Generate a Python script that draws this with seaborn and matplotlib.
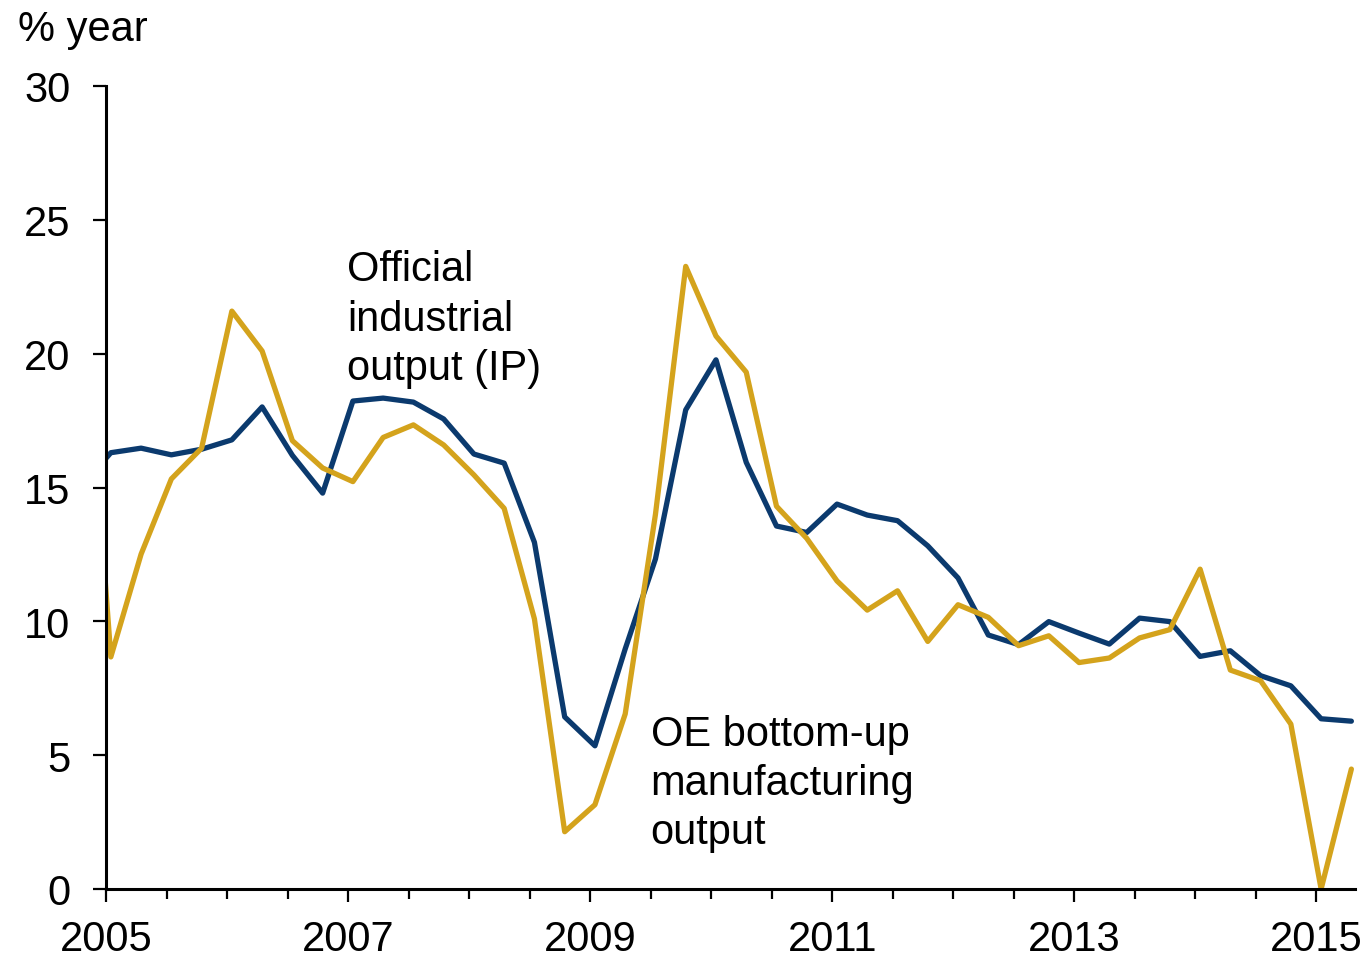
import numpy as np
import pandas as pd
import matplotlib
matplotlib.use("Agg")
import matplotlib.pyplot as plt
import seaborn as sns
from matplotlib.ticker import MultipleLocator, FixedLocator

# quarterly data, 2004Q4 .. 2015Q2
quarters = (["2004Q4"]
            + [f"{y}Q{q}" for y in range(2005, 2015) for q in range(1, 5)]
            + ["2015Q1", "2015Q2"])

ip_official = [
    15.0,
    16.30, 16.47, 16.22, 16.43,
    16.78, 18.01, 16.20, 14.79,
    18.23, 18.34, 18.19, 17.56,
    16.25, 15.91, 12.95, 6.43,
    5.35, 8.97, 12.33, 17.90,
    19.77, 15.94, 13.56, 13.32,
    14.38, 13.97, 13.76, 12.82,
    11.62, 9.49, 9.13, 9.99,
    9.56, 9.15, 10.12, 9.99,
    8.69, 8.90, 7.97, 7.59,
    6.36, 6.27,
]

oe_manufacturing = [
    24.0,
    8.67, 12.51, 15.32, 16.47,
    21.59, 20.10, 16.75, 15.73,
    15.22, 16.87, 17.34, 16.59,
    15.47, 14.22, 10.09, 2.14,
    3.15, 6.54, 14.00, 23.26,
    20.66, 19.31, 14.30, 13.10,
    11.51, 10.42, 11.14, 9.25,
    10.62, 10.15, 9.09, 9.46,
    8.46, 8.63, 9.38, 9.69,
    11.95, 8.18, 7.78, 6.16,
    0.00, 4.48,
]

series_names = ["Official industrial output (IP)", "OE bottom-up manufacturing output"]
colors = ["#0B3A6E", "#D4A31C"]


def quarter_to_year(q):
    # point sits about two weeks into the quarter
    return int(q[:4]) + (int(q[-1]) - 1) * 0.25 + 0.04


t = [quarter_to_year(q) for q in quarters]
df = pd.DataFrame({
    "t": t * 2,
    "value": ip_official + oe_manufacturing,
    "series": [series_names[0]] * len(t) + [series_names[1]] * len(t),
})

sns.set_theme(style="ticks")
plt.rcParams["font.family"] = ["Liberation Sans", "DejaVu Sans"]
plt.rcParams["text.color"] = "black"

fig = plt.figure(figsize=(13.7, 9.62), dpi=100)
ax = fig.add_axes([106 / 1370, 72 / 962, (1355 - 106) / 1370, (890 - 87) / 962])

sns.lineplot(
    data=df, x="t", y="value", hue="series",
    palette=colors, linewidth=3.8, ax=ax, legend=False,
)

ax.set_xlim(2005, 2015.32)
ax.set_ylim(0, 30)
ax.set_xlabel("")
ax.set_ylabel("")

ax.yaxis.set_major_locator(MultipleLocator(5))
ax.xaxis.set_major_locator(FixedLocator(list(range(2005, 2016, 2))))
ax.xaxis.set_minor_locator(MultipleLocator(0.5))
ax.set_xticklabels([str(y) for y in range(2005, 2016, 2)])

for side in ["top", "right"]:
    ax.spines[side].set_visible(False)
for side in ["left", "bottom"]:
    ax.spines[side].set_linewidth(2.2)
    ax.spines[side].set_color("black")

ax.tick_params(axis="y", which="major", length=9.5, width=1.6, pad=16,
               labelsize=30, colors="black", direction="out")
ax.tick_params(axis="x", which="major", length=9.5, width=1.6, pad=12,
               labelsize=30, colors="black", direction="out")
ax.tick_params(axis="x", which="minor", length=7, width=1.6, direction="out",
               colors="black")

ax.text(2006.99, 23.9, "Official\nindustrial\noutput (IP)", fontsize=30,
        va="top", ha="left", linespacing=1.3, color="black")
ax.text(2009.50, 6.55, "OE bottom-up\nmanufacturing\noutput", fontsize=30,
        va="top", ha="left", linespacing=1.3, color="black")

fig.text(18 / 1370, 1 - 10 / 962, "% year", fontsize=30, va="top", ha="left",
         color="black")

fig.savefig("out.png", dpi=100)
